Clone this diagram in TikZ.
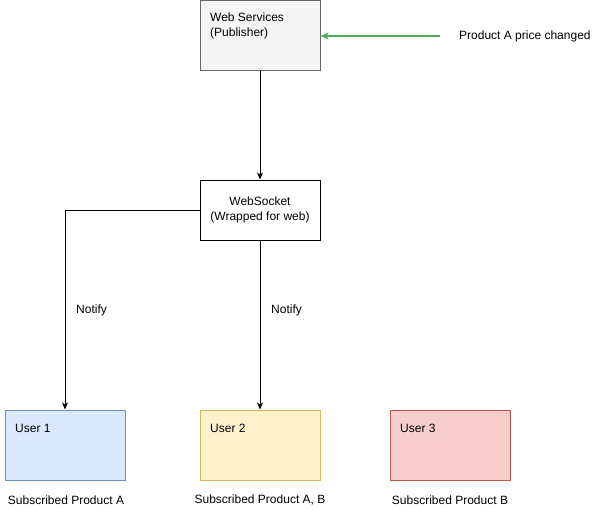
\documentclass[tikz,border=0pt]{standalone}
\usepackage{fontspec}
\setmainfont{Liberation Sans}
\usetikzlibrary{arrows.meta}
\definecolor{pubfill}{HTML}{F5F5F5}
\definecolor{publine}{HTML}{666666}
\definecolor{bluefill}{HTML}{DAE8FC}
\definecolor{blueline}{HTML}{6C8EBF}
\definecolor{yellowfill}{HTML}{FFF2CC}
\definecolor{yellowline}{HTML}{D6B656}
\definecolor{redfill}{HTML}{F8CECC}
\definecolor{redline}{HTML}{B85450}
\definecolor{msggreen}{HTML}{4AAE5A}
\tikzset{
  box/.style={draw, line width=1pt, minimum width=120pt, minimum height=70pt, inner sep=0pt, font=\fontsize{12}{15}\selectfont},
  txt/.style={inner sep=0pt, font=\fontsize{12}{15}\selectfont},
  conn/.style={line width=1pt, -{Stealth[length=7pt,width=6pt,inset=2pt]}}
}
\begin{document}
\begin{tikzpicture}[x=1pt,y=-1pt]
\useasboundingbox (0,0) rectangle (601,511);

%%%publisher
\node[box, fill=pubfill, draw=publine, minimum height=69pt] (pub) at (260,35.5) {};
\node[txt, anchor=west, align=left] (pubtxt) at (210,25.5) {Web Services\\(Publisher)};
\node[txt, anchor=west] (change) at (459,36) {Product A price changed};
\coordinate (changeend) at (440,36);
\draw[msggreen, line width=2pt, -{Stealth[length=8pt,width=7pt,inset=2pt]}] (changeend) -- (pub.east |- changeend);

%%%websocket
\node[box, fill=white, minimum height=60pt, align=center] (ws) at (260,210) {WebSocket\\(Wrapped for web)};
\draw[conn] (pub) -- (ws);

%%%users
\node[box, fill=bluefill, draw=blueline] (user1) at (65,445) {};
\node[box, fill=yellowfill, draw=yellowline] (user2) at (260,445) {};
\node[box, fill=redfill, draw=redline] (user3) at (450,445) {};
\node[txt, anchor=west] (user1txt) at (15,428) {User 1};
\node[txt, anchor=west] (user2txt) at (210,428) {User 2};
\node[txt, anchor=west] (user3txt) at (400,428) {User 3};
\node[txt] (sub1) at (66,500) {Subscribed Product A};
\node[txt] (sub2) at (260,500) {Subscribed Product A, B};
\node[txt] (sub3) at (450,500) {Subscribed Product B};

%%%notify
\draw[conn] (ws.west) -| (user1.north);
\draw[conn] (ws) -- (user2);
\node[txt, anchor=west] (notify1) at (76,310) {Notify};
\node[txt, anchor=west] (notify2) at (271,310) {Notify};

\end{tikzpicture}
\end{document}
